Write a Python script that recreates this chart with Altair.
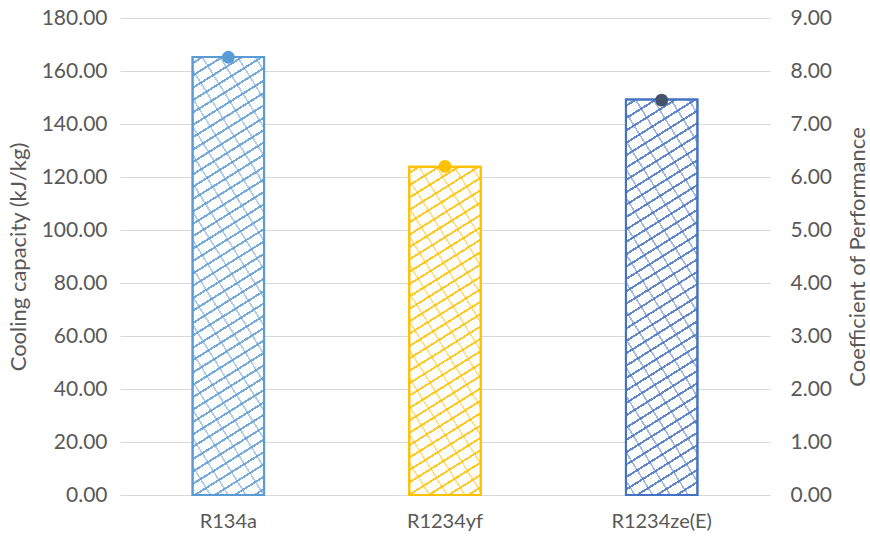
import math
import altair as alt
import pandas as pd

refrigerants = ["R134a", "R1234yf", "R1234ze(E)"]
capacity = [165.3, 123.9, 149.2]
cop = [8.26, 6.20, 7.45]
bar_colors = ["#5B9BD5", "#FFC000", "#4472C4"]
dot_colors = ["#5B9BD5", "#FFC000", "#44546A"]

W, H = 650, 477
CAP_MAX, COP_MAX = 180, 9
PAD_INNER = 0.67
FONT = "Lato"
TXT = "#595959"
GRID = "#D9D9D9"

df = pd.DataFrame({"refrigerant": refrigerants, "capacity": capacity, "cop": cop})


def hex_rgba(c, a):
    c = c.lstrip("#")
    r, g, b = int(c[0:2], 16), int(c[2:4], 16), int(c[4:6], 16)
    return f"rgba({r},{g},{b},{a})"


def stripes(color, bg, w, h, angle_deg, period, lw, rising=True):
    t = math.tan(math.radians(angle_deg))
    gx = t * w / h
    gy = 1.0
    k = (gx + gy) / (gx * gx + gy * gy)
    D = (gx + gy) / math.sqrt((gx / w) ** 2 + (gy / h) ** 2)
    n = int(D / period) + 2
    stops = [alt.GradientStop(offset=0, color=bg)]
    last = 0.0
    for i in range(n):
        c = i * period + period / 2
        a = max(last, min(1.0, (c - lw / 2) / D))
        b = max(a, min(1.0, (c + lw / 2) / D))
        if a >= 1.0:
            break
        stops += [
            alt.GradientStop(offset=a, color=bg),
            alt.GradientStop(offset=a, color=color),
            alt.GradientStop(offset=b, color=color),
            alt.GradientStop(offset=b, color=bg),
        ]
        last = b
    stops.append(alt.GradientStop(offset=1, color=bg))
    if rising:
        return alt.LinearGradient(gradient="linear", stops=stops,
                                  x1=0, y1=0, x2=gx * k, y2=gy * k)
    return alt.LinearGradient(gradient="linear", stops=stops,
                              x1=1, y1=0, x2=1 - gx * k, y2=gy * k)


x_enc = alt.X(
    "refrigerant:N",
    sort=refrigerants,
    scale=alt.Scale(paddingInner=PAD_INNER, paddingOuter=PAD_INNER / 2),
    axis=alt.Axis(title=None, labelAngle=0, ticks=False, domainColor=GRID,
                  labelFont=FONT, labelFontSize=20, labelColor=TXT,
                  labelPadding=16, grid=False),
)
y_left = alt.Y(
    "capacity:Q",
    scale=alt.Scale(domain=[0, CAP_MAX], nice=False),
    axis=alt.Axis(title="Cooling capacity (kJ/kg)", values=list(range(0, 181, 20)),
                  format=".2f", domain=False, ticks=False, gridColor=GRID,
                  labelFont=FONT, labelFontSize=21, labelColor=TXT, labelPadding=13,
                  titleFont=FONT, titleFontSize=22, titleColor=TXT,
                  titleFontWeight="normal", titleX=-102, titleY=H / 2,
                  titleBaseline="middle"),
)

bw = W / 3 * (1 - PAD_INNER)
layers = []
for name, val, col in zip(refrigerants, capacity, bar_colors):
    h = val / CAP_MAX * H
    sub = alt.Chart(df).transform_filter(alt.datum.refrigerant == name)
    base = sub.mark_bar(
        fill=stripes(hex_rgba(col, 0.85), "#FFFFFF", bw, h, 32, 10.5, 2.0, rising=True),
        stroke=col, strokeWidth=2,
    ).encode(x=x_enc, y=y_left)
    cross = sub.mark_bar(
        fill=stripes(hex_rgba(col, 0.5), "rgba(255,255,255,0)", bw, h, 58, 15, 1.6, rising=False),
        stroke=col, strokeWidth=2,
    ).encode(x=x_enc, y="capacity:Q")
    layers += [base, cross]

bars = alt.layer(*layers)

dots = alt.Chart(df).mark_point(filled=True, opacity=1, size=165).encode(
    x=alt.X("refrigerant:N", sort=refrigerants),
    y=alt.Y(
        "cop:Q",
        scale=alt.Scale(domain=[0, COP_MAX], nice=False),
        axis=alt.Axis(title="Coefficient of Performance", orient="right",
                      values=list(range(0, 10)), format=".2f", domain=False,
                      ticks=False, grid=False,
                      labelFont=FONT, labelFontSize=21, labelColor=TXT, labelPadding=20,
                      titleFont=FONT, titleFontSize=22, titleColor=TXT,
                      titleFontWeight="normal", titleX=87, titleY=H / 2,
                      titleAngle=270, titleBaseline="middle"),
    ),
    color=alt.Color("refrigerant:N", sort=refrigerants,
                    scale=alt.Scale(domain=refrigerants, range=dot_colors), legend=None),
)

chart = (
    alt.layer(bars, dots)
    .resolve_scale(y="independent")
    .properties(
        width=W, height=H,
        autosize=alt.AutoSizeParams(type="none"),
        padding={"left": 120, "top": 18, "right": 100, "bottom": 44},
        background="white",
    )
    .configure_view(stroke=None)
)

chart.save("out.html", embed_options={"renderer": "svg", "actions": False})
